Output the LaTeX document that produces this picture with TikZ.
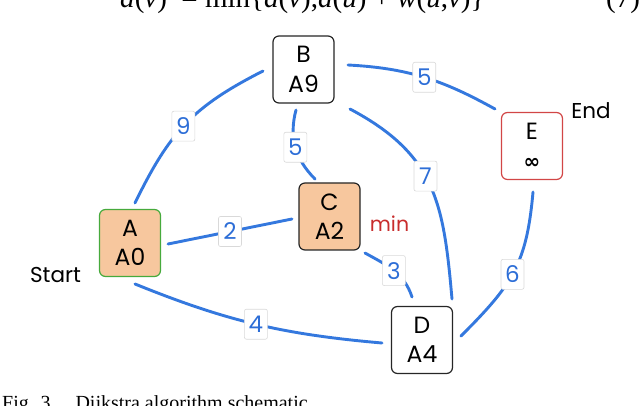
\documentclass[tikz,border=0pt]{standalone}
\usepackage{fontspec}
\setmainfont{Poppins}
\newfontfamily\serif{Liberation Serif}
\newfontfamily\sym{DejaVu Sans}
\definecolor{edgeblue}{RGB}{52,120,222}
\definecolor{numblue}{RGB}{45,110,215}
\definecolor{nodeorange}{RGB}{247,199,158}
\definecolor{nodegreen}{RGB}{70,170,60}
\definecolor{nodered}{RGB}{210,70,70}
\definecolor{minred}{RGB}{200,45,45}
\tikzset{
  vbox/.style={draw=black!85, line width=1.2pt, rounded corners=6pt,
    minimum width=61pt, minimum height=67pt, align=center, inner sep=0pt,
    font=\fontsize{23.5}{29.5}\selectfont},
  wt/.style={fill=white, draw=black!15, line width=0.6pt, rounded corners=2pt,
    font=\fontsize{23}{23}\selectfont, text=numblue, inner sep=1pt,
    minimum width=23pt, minimum height=30pt},
  link/.style={draw=edgeblue, line width=2.9pt, line cap=round},
  side/.style={font=\fontsize{21.5}{21.5}\selectfont}
}
\begin{document}
\begin{tikzpicture}[x=1pt,y=1pt]
\useasboundingbox (0,0) rectangle (640,-406);
\clip (0,0) rectangle (640,-406);
% nodes
\node[vbox, fill=nodeorange, draw=nodegreen] (A) at (130,-243) {A\\A0};
\node[vbox, fill=white] (B) at (303.5,-69.5) {B\\A9};
\node[vbox, fill=nodeorange] (C) at (329.5,-216.5) {C\\A2};
\node[vbox, fill=white] (D) at (422,-340) {D\\A4};
\node[vbox, fill=white, draw=nodered] (E) at (532,-146) {E\\{\sym\bfseries\fontsize{20}{20}\selectfont ∞}};
% side labels
\node[side] (start) at (55.5,-275) {Start};
\node[side] (end) at (591,-111) {End};
\node[side, text=minred, font=\fontsize{20.5}{20.5}\selectfont] (min) at (389.5,-224) {min};
% edges
\draw[link] ([shift={(5,40)}]A.center) to[out=64,in=207,looseness=1.1]
  node[wt,pos=0.48] (w9) {9} ([shift={(-40.5,-1.5)}]B.center);
\draw[link] ([shift={(38,-1)}]A.center) --
  node[wt] (w2) {2} ([shift={(-37.5,-2.5)}]C.center);
\draw[link] ([shift={(-7.5,-40.5)}]B.center) to[out=-105,in=135]
  node[wt,pos=0.5] (w5a) {5} ([shift={(-14.5,37.5)}]C.center);
\draw[link] ([shift={(44.5,4.5)}]B.center) to[out=-3,in=151]
  node[wt,pos=0.5] (w5b) {5} ([shift={(-37,37)}]E.center);
\draw[link] ([shift={(46.5,-39.5)}]B.center) to[out=-28,in=95,looseness=1.15]
  node[wt,pos=0.45] (w7) {7} ([shift={(30,41)}]D.center);
\draw[link] ([shift={(35.5,-36.5)}]C.center) to[out=-29,in=108]
  node[wt,pos=0.5] (w3) {3} ([shift={(-10,43)}]D.center);
\draw[link] ([shift={(5,-41)}]A.center) to[out=-22,in=175]
  node[wt,pos=0.5] (w4) {4} ([shift={(-40,-3)}]D.center);
\draw[link] ([shift={(1,-46)}]E.center) to[out=-95,in=45,looseness=1.15]
  node[wt,pos=0.52] (w6) {6} ([shift={(39,4)}]D.center);
% clipped formula and caption (cut by the frame, as in the reference)
\node[anchor=base west, font=\serif\fontsize{29}{29}\selectfont, inner sep=0pt] (formula) at (120,-8)
  {\textit{d}(\textit{v}) \ = min\{\textit{d}(\textit{v}),\textit{d}(\textit{u}) + \textit{w}(\textit{u},\textit{v})\}};
\node[anchor=base west, font=\serif\fontsize{29}{29}\selectfont, inner sep=0pt] (eqno) at (606,-8) {(7)};
\node[anchor=base west, font=\serif\fontsize{20}{20}\selectfont, inner sep=0pt] (caption) at (2,-409)
  {Fig. 3.\quad Dijkstra algorithm schematic};
\end{tikzpicture}
\end{document}
